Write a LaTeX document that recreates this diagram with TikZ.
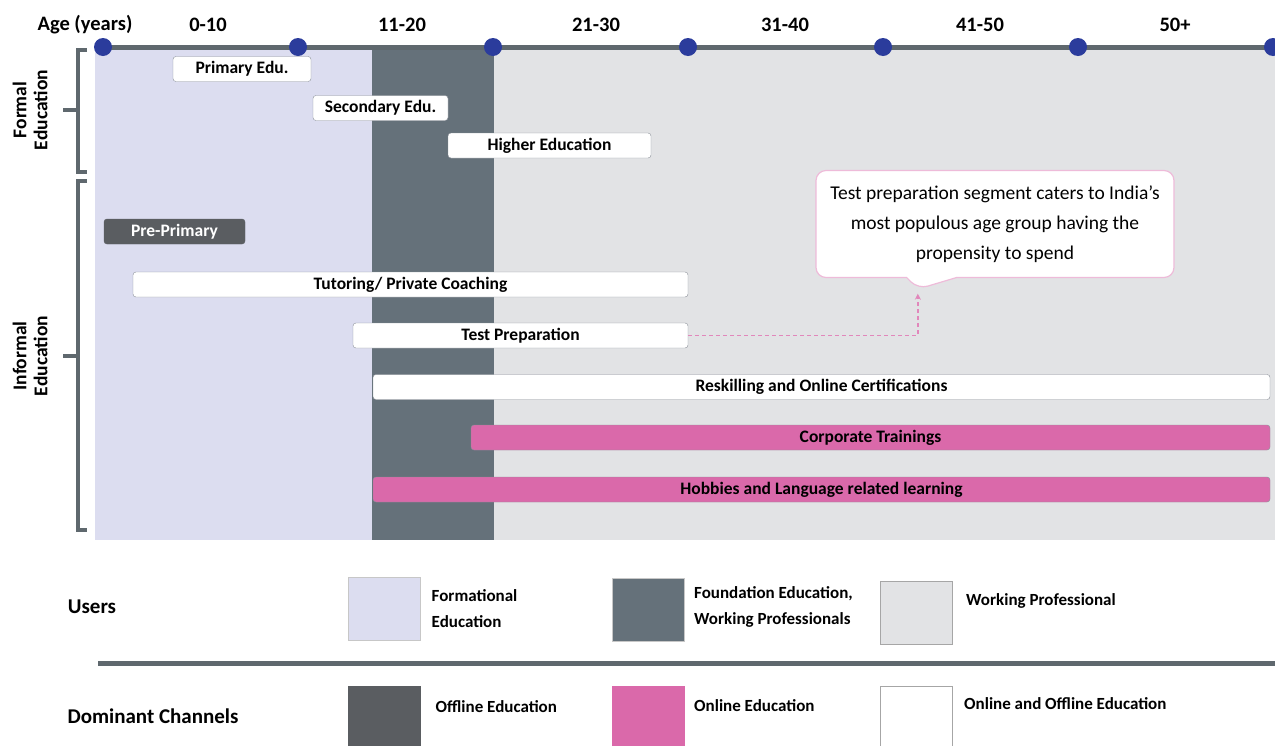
\documentclass[tikz,border=0pt]{standalone}
\usepackage{fontspec}
\setmainfont{Carlito}
\usetikzlibrary{shapes.callouts,arrows.meta,positioning}
\definecolor{lav}{HTML}{DCDDF0}
\definecolor{slate}{HTML}{65717A}
\definecolor{pale}{HTML}{E2E3E5}
\definecolor{rose}{HTML}{DA69AA}
\definecolor{dotblue}{HTML}{2B3C9C}
\definecolor{rail}{HTML}{5F686E}
\definecolor{ink}{HTML}{5A5D61}
\definecolor{rim}{HTML}{8C9199}
\tikzset{
  bar/.style={draw=rim, fill=white, rounded corners=3pt, minimum height=25pt, inner sep=0pt,
    font=\fontsize{17.5}{20}\selectfont\bfseries},
  pinkbar/.style={bar, fill=rose},
  agelbl/.style={font=\fontsize{20.5}{22}\selectfont\bfseries},
  side/.style={rotate=90, align=center, font=\fontsize{19.5}{21}\selectfont\bfseries},
  swatch/.style={draw=black!22, minimum width=72pt, minimum height=63pt, inner sep=0pt},
  keylbl/.style={align=left, anchor=west, font=\fontsize{17}{26}\selectfont\bfseries},
  head/.style={font=\fontsize{21}{22}\selectfont\bfseries}
}
\begin{document}
\begin{tikzpicture}[x=1pt,y=-1pt]
\useasboundingbox (0,0) rectangle (1275,745);
% user bands
\fill[lav] (95,50) rectangle (372,540);
\fill[slate] (372,50) rectangle (494,540);
\fill[pale] (494,50) rectangle (1275,540);
% age axis
\node[agelbl] (agehead) at (85,25) {Age (years)};
\foreach \lbl/\x in {0-10/208,11-20/402,21-30/596,31-40/785,41-50/980,50+/1175}
  \node[agelbl] (age\x) at (\x,25) {\lbl};
\foreach \x [count=\i] in {103,298,493,688,883,1078,1273}
  \coordinate (d\i) at (\x,47);
\draw[rail, line width=5pt] (d1) -- (d7);
\foreach \i in {1,...,7}
  \fill[dotblue] (d\i) circle (9pt);
% brackets
\draw[rail, line width=4pt] (87,50) -- (78,50) -- (78,172) -- (87,172) (78,110) -- (63,110);
\draw[rail, line width=4pt] (87,181) -- (78,181) -- (78,530) -- (87,530) (78,356) -- (63,356);
\node[side] (formal) at (30,110) {Formal\\Education};
\node[side] (informal) at (30,356) {Informal\\Education};
% formal
\node[bar, minimum width=138pt] (primary) at (242,69) {Primary Edu.};
\node[bar, minimum width=135pt] (secondary) at (380.5,108) {Secondary Edu.};
\node[bar, minimum width=203pt] (higher) at (549.5,145.5) {Higher Education};
% informal
\node[bar, fill=ink, draw=ink, text=white, minimum width=141pt] (preprim) at (174.5,231.5) {Pre-Primary};
\node[bar, minimum width=555pt] (tutor) at (410.5,284.5) {Tutoring/ Private Coaching};
\node[bar, minimum width=335pt] (testprep) at (520.5,335.5) {Test Preparation};
\node[bar, minimum width=897pt] (reskill) at (821.5,387) {Reskilling and Online Certifications};
\node[pinkbar, minimum width=799pt] (corporate) at (870.5,437.5) {Corporate Trainings};
\node[pinkbar, minimum width=897pt] (hobby) at (821.5,489.5) {Hobbies and Language related learning};
% note
\node[rectangle callout, draw=rose!45, fill=white, line width=1.2pt, rounded corners=10pt,
  minimum width=358pt, minimum height=107pt, align=center,
  callout absolute pointer={(918,289)}, callout pointer width=50pt,
  font=\fontsize{19.5}{30}\selectfont] (note) at (995,224)
  {Test preparation segment caters to India’s\\most populous age group having the\\propensity to spend};
\draw[rose!80, dash pattern=on 4pt off 3pt, line width=1.5pt, -{Stealth[length=6pt,width=6pt]}, shorten >=4pt]
  (testprep.east) -| (note.pointer);
% legend
\node[head] (users) at (92,607) {Users};
\node[swatch, fill=lav] (kform) at (384,608.5) {};
\node[keylbl, right=8pt of kform] (kformlbl) {Formational\\Education};
\node[swatch, fill=slate] (kfound) at (648.5,610) {};
\node[keylbl, right=6pt of kfound, yshift=3pt] (kfoundlbl) {Foundation Education,\\Working Professionals};
\node[swatch, fill=pale, draw=black!35] (kwork) at (916.5,612.5) {};
\node[keylbl, right=10pt of kwork, yshift=12pt] (kworklbl) {Working Professional};
\draw[rail, line width=5pt] (98,663) -- (1275,663);
\node[head] (channels) at (153,716) {Dominant Channels};
\node[swatch, fill=ink, draw=ink] (koff) at (384,717.5) {};
\node[keylbl, right=12pt of koff, yshift=11pt] (kofflbl) {Offline Education};
\node[swatch, fill=rose, draw=rose] (kon) at (648.5,717.5) {};
\node[keylbl, right=6pt of kon, yshift=12pt] (konlbl) {Online Education};
\node[swatch, fill=white, draw=black!35] (kboth) at (916.5,717.5) {};
\node[keylbl, right=8pt of kboth, yshift=14pt] (kbothlbl) {Online and Offline Education};
\end{tikzpicture}
\end{document}
